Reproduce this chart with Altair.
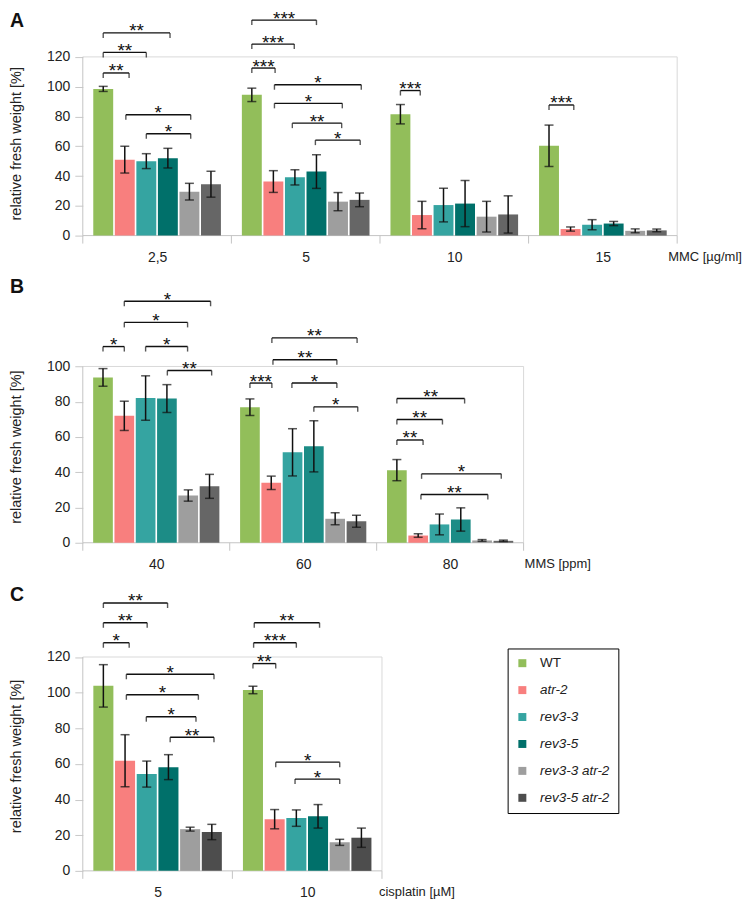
import altair as alt
import pandas as pd

GENOTYPES = ["WT", "atr-2", "rev3-3", "rev3-5", "rev3-3 atr-2", "rev3-5 atr-2"]

# ---------------- Panel A: MMC ----------------
a_doses = ["2,5", "5", "10", "15"]
a_mean = [
    [98.5, 51.0, 50.0, 52.0, 29.5, 34.5],
    [94.5, 36.3, 39.1, 43.0, 22.8, 24.0],
    [81.5, 13.8, 20.5, 21.5, 12.7, 14.2],
    [60.3, 4.4, 7.3, 8.1, 3.2, 3.5],
]
a_err = [
    [1.7, 9.0, 5.0, 6.6, 5.6, 8.7],
    [4.5, 7.3, 5.1, 11.3, 6.1, 4.6],
    [6.5, 9.2, 11.3, 15.5, 10.3, 12.5],
    [13.9, 1.4, 3.4, 1.4, 1.3, 0.9],
]
# (group, from bar, to bar, height, label)
a_brackets = [
    (0, 0, 1.2, 109.2, "**"), (0, 0, 2, 123.0, "**"), (0, 0, 3.1, 136.1, "**"),
    (0, 1.05, 4.06, 81.1, "*"), (0, 2, 4.06, 68.4, "*"),
    (1, 0, 1.08, 112.5, "***"), (1, 0, 1.97, 128.6, "***"), (1, 0, 3, 144.7, "***"),
    (1, 1.05, 5.08, 101.3, "*"), (1, 1.05, 4.2, 88.8, "*"),
    (1, 1.88, 4.17, 75.5, "**"), (1, 2.95, 5.03, 64.1, "*"),
    (2, 0, 0.92, 97.4, "***"),
    (3, 0, 1.15, 87.7, "***"),
]

# ---------------- Panel B: MMS ----------------
b_doses = ["40", "60", "80"]
b_mean = [
    [93.8, 72.0, 82.1, 81.8, 26.8, 32.0],
    [76.9, 34.0, 51.3, 54.7, 13.6, 12.2],
    [41.2, 4.1, 10.4, 13.2, 1.3, 1.1],
]
b_err = [
    [5.0, 8.3, 12.6, 7.9, 3.2, 6.8],
    [4.7, 3.8, 13.4, 14.5, 3.4, 3.4],
    [6.0, 1.0, 5.9, 6.6, 0.5, 0.4],
]
b_brackets = [
    (0, 0, 1, 111.3, "*"), (0, 1, 3.97, 125.0, "*"), (0, 1, 5.05, 137.0, "*"),
    (0, 2, 3.97, 111.3, "*"), (0, 3.02, 5.1, 97.7, "**"),
    (1, 0, 1.03, 90.6, "***"), (1, 1.03, 5.03, 116.2, "**"), (1, 1.08, 4.08, 103.8, "**"),
    (1, 1.97, 4.08, 90.6, "*"), (1, 3, 5.06, 77.1, "*"),
    (2, 0, 1.23, 58.3, "**"), (2, 0, 2.14, 69.9, "**"), (2, 0, 3.18, 81.8, "**"),
    (2, 1.16, 4.9, 39.1, "*"), (2, 1.13, 4.27, 27.4, "**"),
]

# ---------------- Panel C: cisplatin ----------------
c_doses = ["5", "10"]
c_mean = [
    [103.8, 61.8, 54.3, 58.2, 23.4, 21.8],
    [101.5, 29.0, 29.6, 30.6, 16.0, 18.6],
]
c_err = [
    [11.9, 14.6, 7.3, 7.0, 1.1, 4.3],
    [2.1, 5.4, 4.6, 6.6, 1.7, 5.4],
]
c_brackets = [
    (0, 0, 1.19, 128.0, "*"), (0, 0, 2.02, 139.2, "**"), (0, 0, 2.96, 150.3, "**"),
    (0, 1.06, 5.1, 110.3, "*"), (0, 1.06, 4.38, 98.8, "*"),
    (0, 1.98, 4.27, 86.5, "*"), (0, 3.08, 5.1, 75.0, "**"),
    (1, 0, 1.05, 116.3, "**"), (1, 0.03, 2, 128.0, "***"), (1, 0.06, 3.07, 139.2, "**"),
    (1, 1.05, 4, 61.0, "*"), (1, 1.94, 4, 51.5, "*"),
]

COLORS_A = ["#92BE5A", "#F87F7E", "#35A4A1", "#00706A", "#9E9E9E", "#666666"]
COLORS_B = ["#92BE5A", "#F87F7E", "#35A4A1", "#1C8C86", "#9E9E9E", "#666666"]
COLORS_C = ["#92BE5A", "#F87F7E", "#35A4A1", "#00706A", "#9E9E9E", "#4D4D4D"]

SLOT = 0.145
HALF = 0.067
FONT = "Liberation Sans"
INK = "#111111"


def make_panel(doses, means, errs, brackets, colors, width, height, ytop, frame_top,
               yticks, unit, unit_dx, letter, letter_y, title_shift, legend):
    n = len(doses)
    rows = []
    for gi, dose in enumerate(doses):
        for bi, gt in enumerate(GENOTYPES):
            c = gi + (bi - 2.5) * SLOT
            m = means[gi][bi]
            e = errs[gi][bi]
            rows.append(dict(dose=dose, genotype=gt, xc=c, x0=c - HALF, x1=c + HALF,
                             mean=m, lo=max(m - e, 0), hi=m + e, base=0))
    bars = pd.DataFrame(rows)
    br = pd.DataFrame([
        dict(x1=g + (a - 2.5) * SLOT, x2=g + (b - 2.5) * SLOT,
             xm=g + ((a + b) / 2 - 2.5) * SLOT, y=y, label=lab)
        for g, a, b, y, lab in brackets
    ])
    xs = alt.Scale(domain=[-0.5, n - 0.5], nice=False, zero=False)
    ys = alt.Scale(domain=[0, ytop], nice=False)
    label_js = "[" + ",".join("'%s'" % d for d in doses) + "][datum.value]"
    xaxis = alt.Axis(values=list(range(n)), labelExpr=label_js, domain=False, ticks=False,
                     grid=False, labelPadding=15, labelFontSize=14, labelColor="#222",
                     labelFont=FONT, title=None)
    ty = height * (1 - frame_top / 2 / ytop) + title_shift
    yaxis = alt.Axis(values=yticks, domain=False, grid=False, tickSize=8, tickColor="#c8c8c8",
                     tickWidth=1, labelPadding=5, labelFontSize=14, labelColor="#222",
                     labelFont=FONT, title="relative fresh weight [%]", titleFontSize=14.5,
                     titleFontWeight="normal", titleColor="#222", titleFont=FONT,
                     titleX=-59, titleY=ty)

    def X(f):
        return alt.X(f, type="quantitative", scale=xs, axis=xaxis)

    def Y(f):
        return alt.Y(f, type="quantitative", scale=ys, axis=yaxis)

    color = alt.Color("genotype:N", scale=alt.Scale(domain=GENOTYPES, range=colors),
                      legend=legend)

    bar_layer = alt.Chart(bars).mark_bar().encode(
        x=X("x0"), x2="x1:Q", y=Y("base"), y2="mean:Q", color=color)
    err_rule = alt.Chart(bars).mark_rule(color=INK, strokeWidth=1.5).encode(
        x=X("xc"), y=Y("lo"), y2="hi:Q")
    cap_lo = alt.Chart(bars).mark_tick(orient="horizontal", size=9, thickness=1.5,
                                       color=INK).encode(x=X("xc"), y=Y("lo"))
    cap_hi = alt.Chart(bars).mark_tick(orient="horizontal", size=9, thickness=1.5,
                                       color=INK).encode(x=X("xc"), y=Y("hi"))

    frame_dark = pd.DataFrame([
        dict(x=-0.5, x2=n - 0.5, y=0, y2=0),
        dict(x=-0.5, x2=-0.5, y=0, y2=frame_top),
    ])
    frame_light = pd.DataFrame([
        dict(x=-0.5, x2=n - 0.5, y=frame_top, y2=frame_top),
        dict(x=n - 0.5, x2=n - 0.5, y=0, y2=frame_top),
    ])
    fd = alt.Chart(frame_dark).mark_rule(color="#c4c4c4", strokeWidth=1).encode(
        x=X("x"), x2="x2:Q", y=Y("y"), y2="y2:Q")
    fl = alt.Chart(frame_light).mark_rule(color="#d9d9d9", strokeWidth=1).encode(
        x=X("x"), x2="x2:Q", y=Y("y"), y2="y2:Q")

    bounds = pd.DataFrame({"xb": [i - 0.5 for i in range(n + 1)]})
    btick = alt.Chart(bounds).mark_rule(color="#c4c4c4").encode(
        x=X("xb"), y=alt.value(height), y2=alt.value(height + 8))

    unit_df = pd.DataFrame({"xr": [n - 0.5], "u": [unit]})
    unit_t = alt.Chart(unit_df).mark_text(align="left", baseline="alphabetic", dx=unit_dx,
                                          fontSize=13, color="#222", font=FONT).encode(
        x=X("xr"), y=alt.value(height + 25), text="u:N")

    br_rule = alt.Chart(br).mark_rule(color=INK, strokeWidth=1.4).encode(
        x=X("x1"), x2="x2:Q", y=Y("y"))
    br_t1 = alt.Chart(br).mark_tick(orient="vertical", size=5, thickness=1.4, color=INK,
                                    yOffset=2.5).encode(x=X("x1"), y=Y("y"))
    br_t2 = alt.Chart(br).mark_tick(orient="vertical", size=5, thickness=1.4, color=INK,
                                    yOffset=2.5).encode(x=X("x2"), y=Y("y"))
    br_txt = alt.Chart(br).mark_text(baseline="bottom", dy=8.5, fontSize=19, color=INK,
                                     font=FONT).encode(x=X("xm"), y=Y("y"), text="label:N")

    letter_t = alt.Chart(unit_df).mark_text(align="left", baseline="top", fontSize=19.5,
                                            fontWeight="bold", color=INK, font=FONT,
                                            text=letter).encode(
        x=alt.value(-73), y=alt.value(letter_y))

    return alt.layer(fl, fd, btick, bar_layer, err_rule, cap_lo, cap_hi,
                     br_rule, br_t1, br_t2, br_txt, unit_t, letter_t).properties(
        width=width, height=height)


legend_c = alt.Legend(
    orient="none", legendX=426, legendY=54, title=None, symbolType="square",
    symbolSize=64, symbolStrokeWidth=0, labelFontSize=13.5, labelFont=FONT, labelColor="#222",
    labelFontStyle=alt.ExprRef(expr="datum.label == 'WT' ? 'normal' : 'italic'"),
    strokeColor="black", fillColor="white", padding=8, rowPadding=12, labelOffset=11,
)

pa = make_panel(a_doses, a_mean, a_err, a_brackets, COLORS_A, 596, 224, 150, 120,
                [0, 20, 40, 60, 80, 100, 120], "MMC [µg/ml]", -9, "A", 0, -3, None)
pb = make_panel(b_doses, b_mean, b_err, b_brackets, COLORS_B, 442, 251, 142, 100,
                [0, 20, 40, 60, 80, 100], "MMS [ppm]", 1, "B", -14, -8, None)
pc = make_panel(c_doses, c_mean, c_err, c_brackets, COLORS_C, 300, 277, 155, 120,
                [0, 20, 40, 60, 80, 100, 120], "cisplatin [µM]", -3, "C", -9, -8, legend_c)

chart = alt.vconcat(pa, pb, pc, spacing=13).resolve_scale(
    x="independent", y="independent", color="independent"
).resolve_legend(color="independent").properties(padding=0).configure(
    font=FONT).configure_view(strokeWidth=0, stroke="transparent")

chart.save("out.html", embed_options={"renderer": "svg", "actions": False})
